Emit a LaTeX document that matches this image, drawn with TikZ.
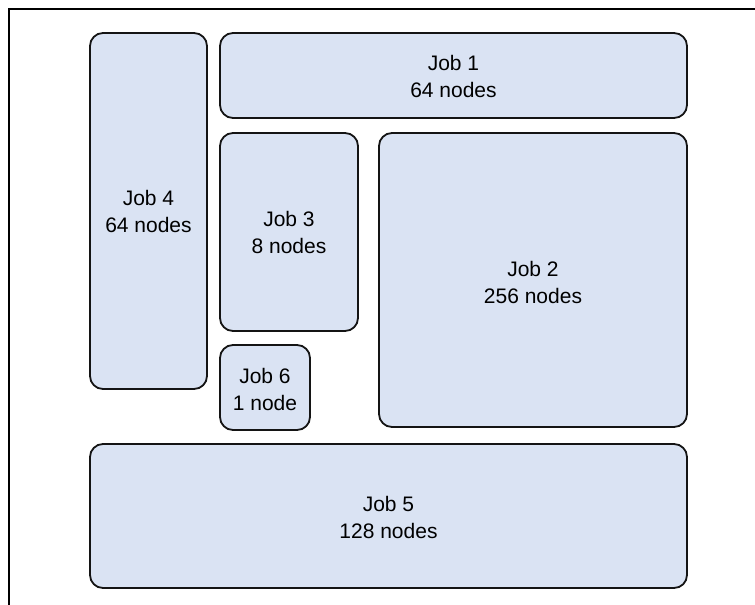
\documentclass[tikz,border=0pt]{standalone}
\usepackage{fontspec}
\setmainfont{Liberation Sans}
\definecolor{jobfill}{RGB}{218,227,243}
\definecolor{jobline}{RGB}{20,20,20}
\begin{document}
\begin{tikzpicture}[x=1pt,y=-1pt,
  jobbox/.style={draw=jobline, line width=1.8pt, fill=jobfill, rounded corners=13pt},
  joblabel/.style={align=center, font=\fontsize{21}{27}\selectfont, text=black, inner sep=0pt},
  frameline/.style={draw=black, line width=1.4pt}]
  \useasboundingbox (0,0) rectangle (755,605);
  % open frame: top and left edges only
  \draw[frameline] (9,605) -- (9,9) -- (755,9);
  % job partitions
  \draw[jobbox] (90,33) rectangle (207,389);
  \draw[jobbox] (220,33) rectangle (687,118);
  \draw[jobbox] (220,133) rectangle (358,331);
  \draw[jobbox] (379,133) rectangle (687,427);
  \draw[jobbox] (220,345) rectangle (310,430);
  \draw[jobbox] (90,444) rectangle (687,588);
  % labels
  \node[joblabel] (j1) at (453.5,76) {Job 1\\64 nodes};
  \node[joblabel] (j4) at (148.5,211) {Job 4\\64 nodes};
  \node[joblabel] (j3) at (289,232) {Job 3\\8 nodes};
  \node[joblabel] (j2) at (533,282) {Job 2\\256 nodes};
  \node[joblabel] (j6) at (265,389) {Job 6\\1 node};
  \node[joblabel] (j5) at (388.5,517) {Job 5\\128 nodes};
\end{tikzpicture}
\end{document}
